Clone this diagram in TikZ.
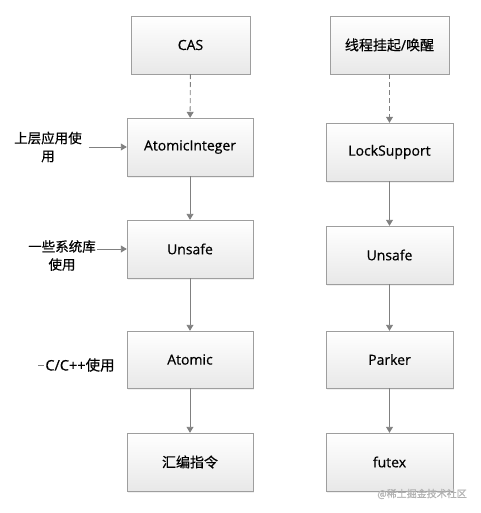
\documentclass[tikz,border=0pt]{standalone}
\usepackage{fontspec}
\setmainfont{Open Sans}[FakeBold=0.5]
\newfontfamily\cjk{Noto Sans CJK SC}[FakeBold=0.5]
\usetikzlibrary{arrows.meta,shadows}

\tikzset{
  blk/.style={draw=black!38, top color=white, bottom color=black!9,
    minimum width=126pt, minimum height=58pt,
    font=\fontsize{14}{16}\selectfont,
    drop shadow={opacity=0.12, shadow xshift=1pt, shadow yshift=-1.5pt}},
  arr/.style={draw=black!50, line width=0.9pt, -{Triangle[width=7pt,length=6pt]}},
  note/.style={font=\cjk\fontsize{13.5}{18}\selectfont, align=center, inner sep=1pt},
}

\begin{document}
\begin{tikzpicture}[x=1pt,y=-1pt]
\useasboundingbox (0,0) rectangle (480,513);
% left column
\node[blk, minimum width=119pt] (cas) at (190.5,45) {CAS};
\node[blk] (ai) at (190,147) {AtomicInteger};
\node[blk] (ul) at (190,249) {Unsafe};
\node[blk, minimum height=57pt] (at) at (190,359.5) {Atomic};
\node[blk] (asm) at (190,462) {\cjk 汇编指令};
% right column
\node[blk, minimum width=119pt] (thr) at (389.5,45) {{\cjk 线程挂起}/{\cjk 唤醒}};
\node[blk, minimum width=127pt] (ls) at (389.5,152) {LockSupport};
\node[blk, minimum width=127pt] (ur) at (389.5,255) {Unsafe};
\node[blk, minimum width=127pt, minimum height=57pt] (pk) at (389.5,359.5) {Parker};
\node[blk, minimum width=127pt] (fx) at (389.5,462) {futex};

\draw[arr, dash pattern=on 5pt off 3pt] (cas) -- (ai);
\draw[arr] (ai) -- (ul);
\draw[arr] (ul) -- (at);
\draw[arr] (at) -- (asm);
\draw[arr, dash pattern=on 5pt off 3pt] (thr) -- (ls);
\draw[arr] (ls) -- (ur);
\draw[arr] (ur) -- (pk);
\draw[arr] (pk) -- (fx);

% callers
\node[note] (upper) at (48,147) {上层应用使\\用};
\node[note] (sys) at (62,255.5) {一些系统库\\使用};
\node[note, font=\fontsize{14.5}{18}\selectfont] (cpp) at (80,365) {C/C++{\cjk 使用}};
\coordinate (stub) at ([xshift=-6pt]cpp.west);
\draw[arr] ([xshift=6pt]upper.east) -- (ai.west);
\draw[arr] (sys.east |- ul.west) -- (ul.west);
\draw[draw=black!50, line width=0.9pt] (stub) -- (cpp.west);

\node[font=\cjk\fontsize{10}{12}\selectfont, text=black!30] (wm) at (422,494) {@稀土掘金技术社区};
\end{tikzpicture}
\end{document}
